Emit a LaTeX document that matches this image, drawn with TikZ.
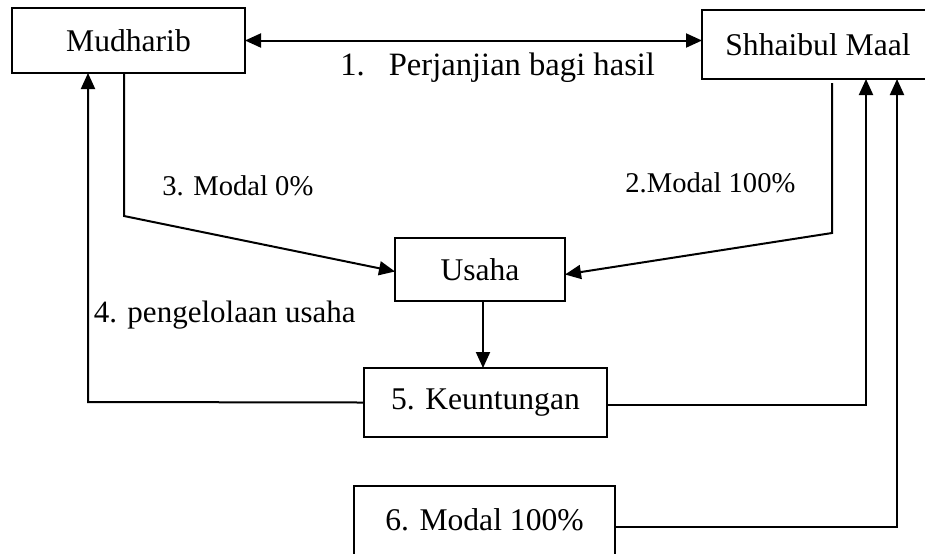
\documentclass[tikz,border=0pt]{standalone}
\usepackage{fontspec}
\setmainfont{Liberation Serif}
\usetikzlibrary{arrows.meta, positioning}

\begin{document}
\begin{tikzpicture}[x=0.5pt, y=-0.5pt,
  box/.style={draw, line width=1pt, inner sep=0pt, outer sep=0pt,
    font=\fontsize{15.8}{19}\selectfont},
  conn/.style={-{Triangle[length=8pt, width=7pt]}, line width=1pt},
  annot/.style={font=\fontsize{14.3}{17}\selectfont, inner sep=0pt},
]
\useasboundingbox (0,0) rectangle (925,553);

% =================== boxes ===================
\node[box, minimum width=116.5pt, minimum height=32.5pt] (mudharib) at (128.5,40.5) {Mudharib};
\node[box, minimum width=112pt, minimum height=34.5pt] (shhaibul) at (814,44.5)
  {\hspace*{4pt}\raisebox{-2pt}{Shhaibul Maal}};
\node[box, minimum width=85pt, minimum height=31.5pt] (usaha) at (480,269.5) {Usaha};
\node[box, minimum width=121.5pt, minimum height=34.5pt] (keuntungan) at (485.5,402.5) {5. Keuntungan};
\node[box, minimum width=130.5pt, minimum height=34.5pt] (modal) at (484.5,520) {6. Modal 100\%};

% corners of the elbow lines
\coordinate (c3) at (124,216);
\coordinate (c2) at (832,233);
\coordinate (c4) at (88,402);
\coordinate (c5) at (866,405);
\coordinate (c6) at (897,527);

% =================== connectors ===================
\draw[conn, {Triangle[length=8pt, width=7pt]}-{Triangle[length=8pt, width=7pt]}]
  (mudharib.east) -- (shhaibul.west |- mudharib.east);
\draw[conn] (mudharib.south -| c3) -- (c3) -- ([yshift=-1pt]usaha.west);
\draw[conn] ([yshift=-2pt]shhaibul.south -| c2) -- (c2) -- ([yshift=-2.5pt]usaha.east);
\draw[conn] ([xshift=1.5pt]usaha.south) -- ([xshift=1.5pt]usaha.south |- keuntungan.north);
\draw[conn] (keuntungan.west) -- (c4) -- (c4 |- mudharib.south);
\draw[conn] (keuntungan.east |- c5) -- (c5) -- (c5 |- shhaibul.south);
\draw[conn] (modal.east |- c6) -- (c6) -- (c6 |- shhaibul.south);

% =================== labels ===================
\node[inner sep=0pt, anchor=base west, font=\fontsize{16.3}{19}\selectfont] (perjanjian)
  at (340,75) {1.\hspace{12pt}Perjanjian bagi hasil};
\node[annot, anchor=base west] (modal2) at (625,192) {2.Modal 100\%};
\node[annot, anchor=base west] (modal3) at (162,195) {3. Modal 0\%};
\node[annot, anchor=base east, font=\fontsize{15.5}{19}\selectfont] (kelola)
  at (356,322) {4. pengelolaan usaha};

\end{tikzpicture}
\end{document}
